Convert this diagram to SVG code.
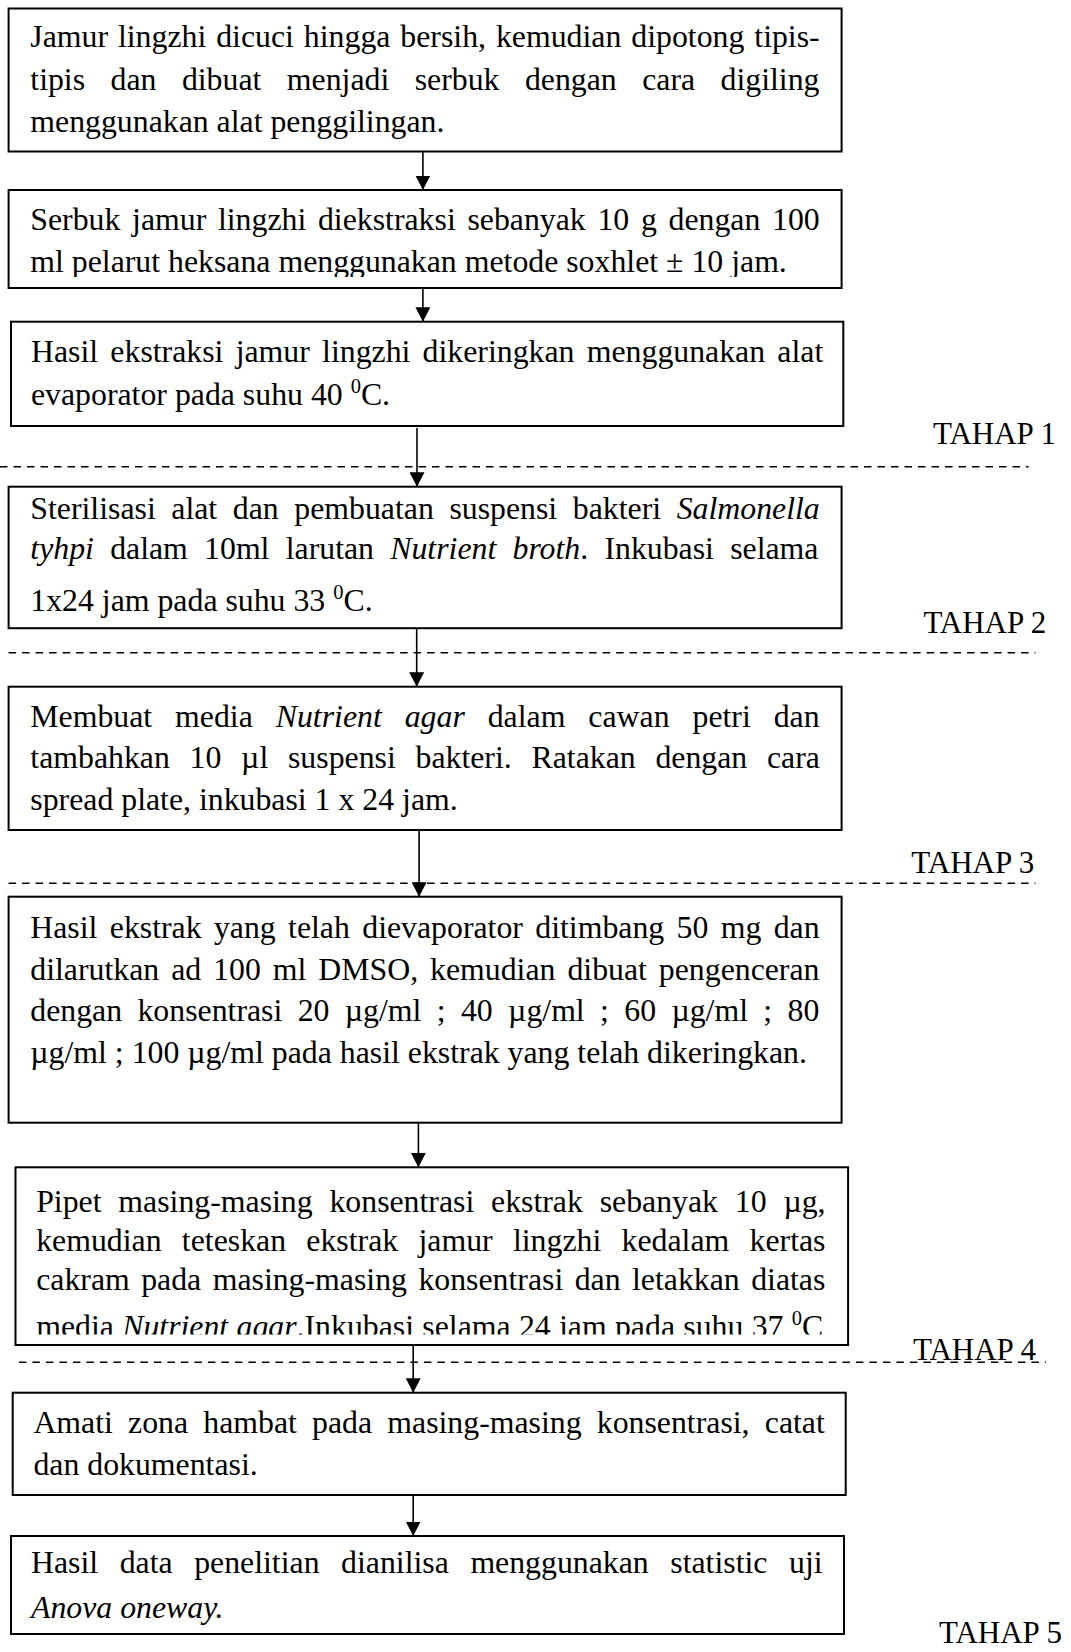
<svg xmlns="http://www.w3.org/2000/svg" width="1071" height="1652" viewBox="0 0 1071 1652">
<style>
.box{fill:#fff;stroke:#000;stroke-width:2}
.t{font-family:"Liberation Serif","Times New Roman",serif;font-size:31.8px;fill:#000}
.i{font-style:italic}
.sup{font-size:20.5px}
.lbl{font-family:"Liberation Serif","Times New Roman",serif;font-size:31px;fill:#000}
.conn{stroke:#000;stroke-width:1.6;fill:none}
.dash{stroke:#000;stroke-width:1.5;stroke-dasharray:7.5 6;fill:none}
</style>
<defs>
<marker id="arr" viewBox="0 0 14.5 15" markerWidth="14.5" markerHeight="15" refX="14.5" refY="7.5" orient="auto" markerUnits="userSpaceOnUse">
<path d="M0,0 L14.5,7.5 L0,15 z" fill="#000"/>
</marker>
<clipPath id="c2"><rect x="8" y="190" width="835" height="87"/></clipPath>
<clipPath id="c7"><rect x="15" y="1167" width="834" height="167.5"/></clipPath>
</defs>
<rect width="1071" height="1652" fill="#fff"/>

<g id="dividers">
<line class="dash" x1="0" y1="466.7" x2="1028.6" y2="466.7"/>
<line class="dash" x1="8.6" y1="652.7" x2="1035.5" y2="652.7"/>
<line class="dash" x1="8.6" y1="883.3" x2="1035.5" y2="883.3"/>
<line class="dash" x1="18.9" y1="1362.3" x2="1045.9" y2="1362.3"/>
</g>

<g id="connectors">
<line class="conn" x1="422.9" y1="152" x2="422.9" y2="190" marker-end="url(#arr)"/>
<line class="conn" x1="422.9" y1="288" x2="422.9" y2="321.7" marker-end="url(#arr)"/>
<line class="conn" x1="417" y1="428" x2="417" y2="486.7" marker-end="url(#arr)"/>
<line class="conn" x1="416.7" y1="628" x2="416.7" y2="686.7" marker-end="url(#arr)"/>
<line class="conn" x1="419.1" y1="830" x2="419.1" y2="896.7" marker-end="url(#arr)"/>
<line class="conn" x1="418.4" y1="1123" x2="418.4" y2="1167.3" marker-end="url(#arr)"/>
<line class="conn" x1="413.2" y1="1345" x2="413.2" y2="1392.7" marker-end="url(#arr)"/>
<line class="conn" x1="413.2" y1="1495" x2="413.2" y2="1536" marker-end="url(#arr)"/>
</g>

<g id="node1">
<rect class="box" x="8.6" y="8.5" width="833" height="143"/>
<text class="t" x="30.3" y="47" word-spacing="2">Jamur lingzhi dicuci hingga bersih, kemudian dipotong tipis-</text>
<text class="t" x="30.3" y="90" word-spacing="17.5">tipis dan dibuat menjadi serbuk dengan cara digiling</text>
<text class="t" x="30.3" y="132">menggunakan alat penggilingan.</text>
</g>

<g id="node2">
<rect class="box" x="8.6" y="190" width="833" height="98"/>
<text class="t" x="30.3" y="230" word-spacing="3.75">Serbuk jamur lingzhi diekstraksi sebanyak 10 g dengan 100</text>
<text class="t" x="30.3" y="271.7" clip-path="url(#c2)">ml pelarut heksana menggunakan metode soxhlet ± 10 jam.</text>
</g>

<g id="node3">
<rect class="box" x="11" y="321.7" width="832.3" height="104.3"/>
<text class="t" x="31" y="361.7" word-spacing="4.3">Hasil ekstraksi jamur lingzhi dikeringkan menggunakan alat</text>
<text class="t" x="31" y="405">evaporator pada suhu 40 <tspan class="sup" dy="-12.5">0</tspan><tspan dy="12.5">C.</tspan></text>
</g>

<g id="node4">
<rect class="box" x="8.6" y="486.7" width="833" height="141.5"/>
<text class="t" x="30.3" y="518.5" word-spacing="7.65">Sterilisasi alat dan pembuatan suspensi bakteri <tspan class="i">Salmonella</tspan></text>
<text class="t" x="30.3" y="559" word-spacing="8.3"><tspan class="i">tyhpi</tspan> dalam 10ml larutan <tspan class="i">Nutrient broth</tspan>. Inkubasi selama</text>
<text class="t" x="30.3" y="611">1x24 jam pada suhu 33 <tspan class="sup" dy="-12.5">0</tspan><tspan dy="12.5">C.</tspan></text>
</g>

<g id="node5">
<rect class="box" x="8.6" y="686.7" width="833" height="143.3"/>
<text class="t" x="30.3" y="727.3" word-spacing="15">Membuat media <tspan class="i">Nutrient agar</tspan> dalam cawan petri dan</text>
<text class="t" x="30.3" y="768.3" word-spacing="11.8">tambahkan 10 µl suspensi bakteri. Ratakan dengan cara</text>
<text class="t" x="30.3" y="810">spread plate, inkubasi 1 x 24 jam.</text>
</g>

<g id="node6">
<rect class="box" x="8.6" y="896.7" width="833" height="226"/>
<text class="t" x="30.3" y="938.3" word-spacing="4.4">Hasil ekstrak yang telah dievaporator ditimbang 50 mg dan</text>
<text class="t" x="30.3" y="980" word-spacing="4">dilarutkan ad 100 ml DMSO, kemudian dibuat pengenceran</text>
<text class="t" x="30.3" y="1020.5" word-spacing="7.4">dengan konsentrasi 20 µg/ml ; 40 µg/ml ; 60 µg/ml ; 80</text>
<text class="t" x="30.3" y="1063.3">µg/ml ; 100 µg/ml pada hasil ekstrak yang telah dikeringkan.</text>
</g>

<g id="node7">
<rect class="box" x="15.5" y="1167.3" width="832.6" height="177.7"/>
<text class="t" x="36.2" y="1211.7" word-spacing="8.85">Pipet masing-masing konsentrasi ekstrak sebanyak 10 µg,</text>
<text class="t" x="36.2" y="1250.5" word-spacing="12.35">kemudian teteskan ekstrak jamur lingzhi kedalam kertas</text>
<text class="t" x="36.2" y="1290" word-spacing="3.5">cakram pada masing-masing konsentrasi dan letakkan diatas</text>
<text class="t" x="36.2" y="1337" word-spacing="0.35" clip-path="url(#c7)">media <tspan class="i">Nutrient agar</tspan>.Inkubasi selama 24 jam pada suhu 37 <tspan class="sup" dy="-12.5">0</tspan><tspan dy="12.5">C</tspan></text>
</g>

<g id="node8">
<rect class="box" x="12.7" y="1392.7" width="833" height="102.3"/>
<text class="t" x="33.4" y="1433.3" word-spacing="7.25">Amati zona hambat pada masing-masing konsentrasi, catat</text>
<text class="t" x="33.4" y="1475">dan dokumentasi.</text>
</g>

<g id="node9">
<rect class="box" x="11" y="1536" width="833" height="98"/>
<text class="t" x="31" y="1573.3" word-spacing="13.6">Hasil data penelitian dianilisa menggunakan statistic uji</text>
<text class="t i" x="31" y="1618.3">Anova oneway.</text>
</g>

<g id="stages">
<text class="lbl" x="933" y="444">TAHAP 1</text>
<text class="lbl" x="923.4" y="633.3">TAHAP 2</text>
<text class="lbl" x="911.3" y="873.3">TAHAP 3</text>
<text class="lbl" x="913" y="1360">TAHAP 4</text>
<text class="lbl" x="939" y="1643.3">TAHAP 5</text>
</g>
</svg>
